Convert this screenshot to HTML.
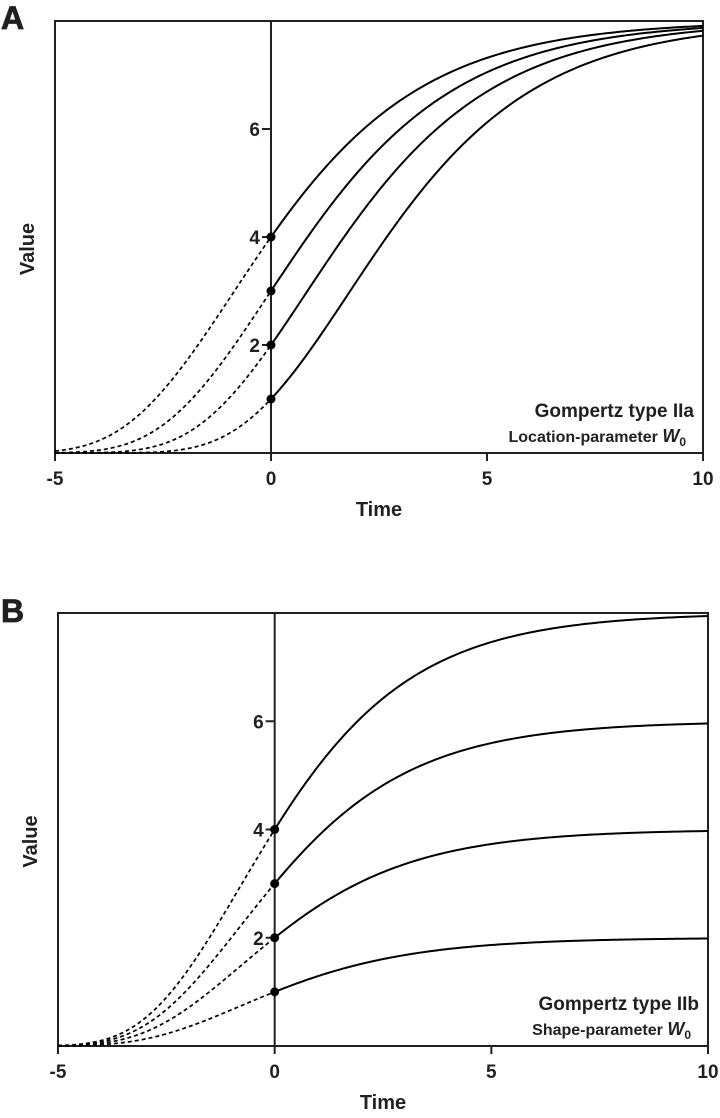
<!DOCTYPE html>
<html><head><meta charset="utf-8"><style>
html,body{margin:0;padding:0;background:#fff}
svg{display:block}
text{font-family:"Liberation Sans",Arial,sans-serif;font-weight:bold;fill:#231f20}
</style></head><body>
<svg id="svg" width="720" height="1118" viewBox="0 0 720 1118"></svg>
<script>
const xTicks = [-5, 0, 5, 10];
const yTicks = [2, 4, 6];
const startValues = [4, 3, 2, 1];
const asymptotesA = [8, 8, 8, 8];
const asymptotesB = [8, 6, 4, 2];
const rateA = 0.41;
const rateB = 0.46;

const NS = "http://www.w3.org/2000/svg";
const svg = document.getElementById('svg');
function el(tag, attrs, parent, txt) {
  const e = document.createElementNS(NS, tag);
  for (const k in attrs) e.setAttribute(k, attrs[k]);
  if (txt !== undefined) e.textContent = txt;
  (parent || svg).appendChild(e);
  return e;
}

function panel(cfg) {
  const g = el('g', {});
  
  
  const xs = t => cfg.x0 + (t + 5) / 15 * (cfg.x1 - cfg.x0);
  const ys = v => cfg.y0 - v / 8 * (cfg.y0 - cfg.y1);
  const box = el('rect', {x: cfg.x0, y: cfg.y1, width: cfg.x1 - cfg.x0, height: cfg.y0 - cfg.y1, fill: 'none', stroke: '#231f20', 'stroke-width': 2}, g);
  
  
  const yax = el('line', {x1: xs(0), x2: xs(0), y1: cfg.y1, y2: cfg.y0, stroke: '#231f20', 'stroke-width': 2}, g);
  
  
  xTicks.forEach(t => {
    el('line', {x1: xs(t), x2: xs(t), y1: cfg.y0, y2: cfg.y0 + 8, stroke: '#231f20', 'stroke-width': 2}, g);
    const lab = el('text', {x: xs(t), y: cfg.y0 + 32, 'text-anchor': 'middle', 'font-size': 19}, g, String(t));
    
    
  });
  yTicks.forEach(v => {
    el('line', {x1: xs(0) - 9, x2: xs(0), y1: ys(v), y2: ys(v), stroke: '#231f20', 'stroke-width': 2}, g);
    const lab = el('text', {x: xs(0) - 11, y: ys(v) + 7, 'text-anchor': 'end', 'font-size': 19}, g, String(v));
    
    
  });
  startValues.forEach((w0, i) => {
    const A = cfg.asym[i];
    const b = Math.log(A / w0);
    const f = t => A * Math.exp(-b * Math.exp(-cfg.rate * t));
    let dd = '', ds = '';
    for (let k = 0; k <= 100; k++) {
      const t = -5 + 5 * k / 100;
      dd += (k ? 'L' : 'M') + xs(t).toFixed(2) + ' ' + ys(f(t)).toFixed(2);
    }
    for (let k = 0; k <= 200; k++) {
      const t = 10 * k / 200;
      ds += (k ? 'L' : 'M') + xs(t).toFixed(2) + ' ' + ys(f(t)).toFixed(2);
    }
    const p1 = el('path', {d: dd, fill: 'none', stroke: '#000', 'stroke-width': 1.7, 'stroke-dasharray': '4 3'}, g);
    
    
    const p2 = el('path', {d: ds, fill: 'none', stroke: '#000', 'stroke-width': 2}, g);
    
    
    const c = el('circle', {cx: xs(0), cy: ys(w0), r: 4.5, fill: '#000'}, g);
    
    
  });
  const L = el('text', {x: cfg.letterX, y: cfg.letterY, 'font-size': 32, stroke: '#231f20', 'stroke-width': 0.8}, g, cfg.letter);
  
  
  const yt = el('text', {x: 0, y: 0, 'font-size': 20, 'text-anchor': 'middle', transform: 'translate(' + (cfg.x0 - 21) + ',' + ((cfg.y0 + cfg.y1) / 2 + 12) + ') rotate(-90)'}, g, 'Value');
  
  
  const xt = el('text', {x: xs(2.5), y: cfg.y0 + 63, 'font-size': 20, 'text-anchor': 'middle'}, g, 'Time');
  
  
  const t1 = el('text', {x: cfg.x1 - 9, y: cfg.y0 - 36, 'font-size': 19, 'text-anchor': 'end'}, g, cfg.title);
  
  
  const t2 = el('text', {x: cfg.x1 - 17, y: cfg.y0 - 11, 'font-size': 16, 'text-anchor': 'end'}, g);
  
  
  t2.appendChild(document.createTextNode(cfg.sub + ' '));
  el('tspan', {'font-style': 'italic', 'font-size': 18}, t2, 'W');
  el('tspan', {'font-size': 12, dy: 4}, t2, '0');
}

panel({name: 'panel-a', x0: 55, x1: 703, y0: 453, y1: 21, asym: asymptotesA, rate: rateA, letter: 'A', letterX: 1, letterY: 29, title: 'Gompertz type IIa', sub: 'Location-parameter'});
panel({name: 'panel-b', x0: 58, x1: 708, y0: 1046, y1: 613, asym: asymptotesB, rate: rateB, letter: 'B', letterX: 1, letterY: 622, title: 'Gompertz type IIb', sub: 'Shape-parameter'});
</script>
</body></html>
